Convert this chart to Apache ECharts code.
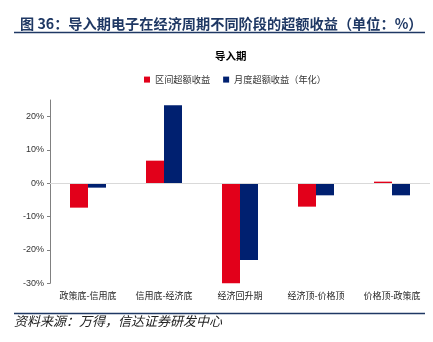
<!DOCTYPE html>
<html>
<head>
<meta charset="utf-8">
<script src="https://cdn.jsdelivr.net/npm/echarts@6/dist/echarts.min.js"></script>
<style>
html,body{margin:0;padding:0;background:#fff;}
#c{width:433px;height:342px;}
</style>
</head>
<body>
<div id="c"></div>
<script>
var categories = ['政策底-信用底', '信用底-经济底', '经济回升期', '经济顶-价格顶', '价格顶-政策底'];
var seriesNames = ['区间超额收益', '月度超额收益（年化）'];
var intervalExcess = [-7.3, 6.8, -30.0, -7.0, 0.5];
var monthlyExcess = [-1.3, 23.4, -23.0, -3.6, -3.6];
var yTicks = [-30, -20, -10, 0, 10, 20];

var chart = echarts.init(document.getElementById('c'), null, {renderer: 'canvas'});
var cjk = '"Noto Sans CJK SC", sans-serif';
chart.setOption({
  animation: false,
  title: [{
    text: '图 36：导入期电子在经济周期不同阶段的超额收益（单位：%）',
    left: 15, top: 12,
    textStyle: {fontFamily: cjk, fontSize: 14.2, fontWeight: 'bold', color: '#1F3864'}
  }, {
    text: '导入期',
    left: 210, top: 46,
    textStyle: {fontFamily: cjk, fontSize: 10.5, fontWeight: 'bold', color: '#000'}
  }],
  graphic: [
    {type: 'line', shape: {x1: 14, y1: 32.5, x2: 425, y2: 32.5}, style: {stroke: '#1F3864', lineWidth: 1.5}},
    {type: 'line', shape: {x1: 14, y1: 313.5, x2: 425, y2: 313.5}, style: {stroke: '#1F3864', lineWidth: 1.5}},
    {type: 'text', left: 14, top: 315, style: {text: '资料来源：万得，信达证券研发中心', fontFamily: cjk, fontSize: 13, fontStyle: 'italic', fill: '#222'}}
  ],
  legend: {
    top: 70, left: 139,
    itemWidth: 6, itemHeight: 6, itemGap: 13,
    icon: 'rect',
    textStyle: {fontFamily: cjk, fontSize: 9.2, color: '#333'},
    data: seriesNames
  },
  grid: {left: 50, right: 3, top: 100, bottom: 58.7, containLabel: false},
  xAxis: {
    type: 'category',
    data: categories,
    axisLine: {show: false, onZero: false},
    axisTick: {show: false},
    axisLabel: {fontFamily: cjk, fontSize: 9, color: '#222', margin: 8, interval: 0}
  },
  yAxis: {
    type: 'value',
    min: -30, max: 25, interval: 10,
    axisLine: {show: true, lineStyle: {color: '#808080', width: 1}},
    axisTick: {show: true, length: 3, lineStyle: {color: '#808080'}, customValues: yTicks},
    axisLabel: {fontFamily: 'Liberation Sans, Arial, sans-serif', fontSize: 9, color: '#333', margin: 6, customValues: yTicks,
      formatter: function (v) { return v + '%'; }},
    splitLine: {show: false}
  },
  series: [{
    name: seriesNames[0],
    type: 'bar',
    data: intervalExcess,
    barWidth: 18,
    barGap: '0%',
    itemStyle: {color: '#E2001A'},
    markLine: {
      silent: true, symbol: 'none', label: {show: false},
      lineStyle: {color: '#D9D9D9', type: 'solid', width: 1},
      data: [{yAxis: 0}]
    },
    z: 3
  }, {
    name: seriesNames[1],
    type: 'bar',
    data: monthlyExcess,
    barWidth: 18,
    barGap: '0%',
    itemStyle: {color: '#002070'},
    z: 3
  }]
});
</script>
</body>
</html>
